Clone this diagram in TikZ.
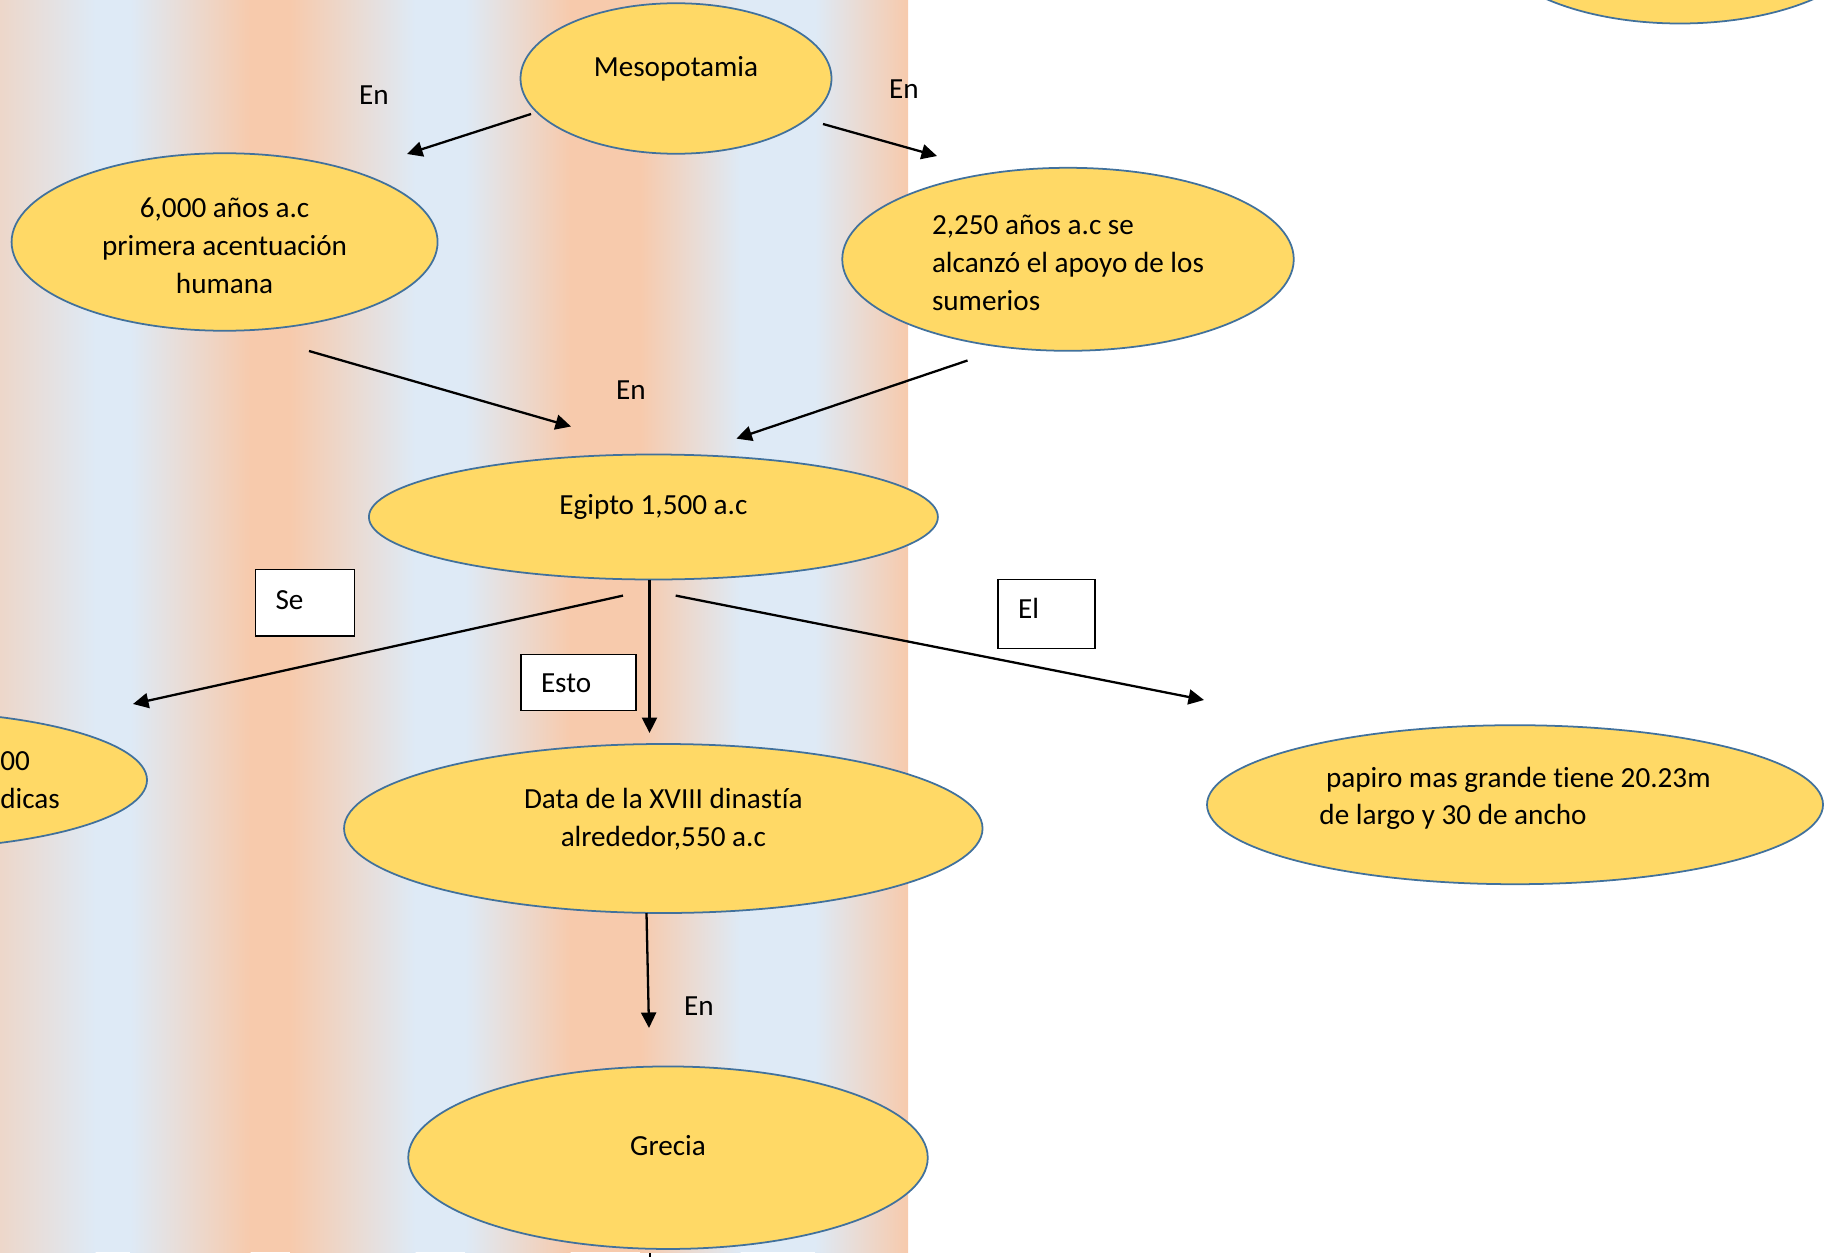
\documentclass[tikz,border=0pt]{standalone}
\usepackage{fontspec}
\setmainfont{Carlito}[Ligatures=NoCommon]
\usetikzlibrary{arrows.meta,shapes.geometric,positioning}
\definecolor{stripeblue}{HTML}{DEEAF6}
\definecolor{stripesalmon}{HTML}{F7CAAC}
\definecolor{ovalfill}{HTML}{FFD966}
\definecolor{ovalline}{HTML}{41719C}
\newcommand{\txtfont}{\fontsize{16.6}{21.6}\selectfont}

\begin{document}
\begin{tikzpicture}[x=0.2mm, y=-0.2mm,
  oval/.style={ellipse, draw=ovalline, line width=1pt, fill=ovalfill, inner sep=0pt,
    font=\txtfont, align=center, text height=0pt},
  lbl/.style={rectangle, draw=black, line width=0.6pt, fill=white, inner xsep=4mm,
    inner ysep=0pt, align=left, font=\txtfont, text depth=0pt},
  en/.style={font=\txtfont, inner sep=0pt},
  arr/.style={-{Triangle[length=3.1mm,width=3mm]}, line width=1.3pt}]
\useasboundingbox (0,0) rectangle (1830,1256);
\clip (0,0) rectangle (1830,1256);

% striped background
\shade[left color=stripesalmon!60!stripeblue, right color=stripeblue] (0,0) rectangle (95.5,1252);
\fill[stripeblue] (95,0) rectangle (130.5,1252);
\shade[left color=stripeblue, right color=stripesalmon] (130,0) rectangle (250.5,1252);
\fill[stripesalmon] (250,0) rectangle (290.5,1252);
\shade[left color=stripesalmon, right color=stripeblue] (290,0) rectangle (415.5,1252);
\fill[stripeblue] (415,0) rectangle (465.5,1252);
\shade[left color=stripeblue, right color=stripesalmon] (465,0) rectangle (570.5,1252);
\fill[stripesalmon] (570,0) rectangle (640.5,1252);
\shade[left color=stripesalmon, right color=stripeblue] (640,0) rectangle (740.5,1252);
\fill[stripeblue] (740,0) rectangle (815.5,1252);
\shade[left color=stripeblue, right color=stripesalmon] (815,0) rectangle (908,1252);

% ovals
\node[oval, minimum width=78mm, minimum height=36mm] (top) at (1680,-66.5) {};
\node[oval, minimum width=62.2mm, minimum height=30.1mm, text depth=0.6mm] (meso) at (676,78.5) {Mesopotamia};
\node[oval, minimum width=85.2mm, minimum height=35.5mm, text height=20.6mm, text depth=0pt] (acent) at (224.6,242)
  {6,000 años a.c\\primera acentuación\\humana};
\node[oval, align=left, minimum width=90.3mm, minimum height=36.6mm, text height=20.4mm, text depth=0pt] (sumer) at (1068,259.3)
  {2,250 años a.c se\\alcanzó el apoyo de los\\sumerios};
\node[oval, minimum width=113.8mm, minimum height=25mm, text depth=1mm] (egipto) at (653.4,517) {Egipto 1,500 a.c};
\node[oval, minimum width=100mm, minimum height=27.6mm] (medic) at (-103,780) {};
\node[font=\txtfont, align=left, inner sep=0pt, anchor=base west] (medictxt) at (0,808) {00\\dicas};
\node[oval, minimum width=127.7mm, minimum height=33.8mm, text height=7mm, text depth=0pt] (data) at (663.3,828.5)
  {Data de la XVIII dinastía\\alrededor,550 a.c};
\node[oval, align=left, minimum width=123.2mm, minimum height=31.8mm, text height=8.1mm, text depth=0pt] (papiro) at (1515,804.7)
  {~papiro mas grande tiene 20.23m\\de largo y 30 de ancho};
\node[oval, minimum width=103.9mm, minimum height=36.5mm, text depth=0.7mm] (grecia) at (668,1157.7) {Grecia};

% boxes
\node[lbl, text width=11.8mm, minimum height=13.3mm, text height=2.5mm] (se) at (305.1,602.75) {Se};
\node[lbl, text width=15mm, minimum height=11.3mm, text height=4.1mm] (esto) at (578.5,682.7) {Esto};
\node[lbl, text width=11.4mm, minimum height=13.9mm, text height=1.8mm] (el) at (1046.5,614.2) {El};

% labels
\node[en] (en1) at (374,95) {En};
\node[en] (en2) at (904,89) {En};
\node[en] (en3) at (631,390) {En};
\node[en] (en4) at (699,1006) {En};

% arrow ends
\coordinate (meso-l) at (531,114);
\coordinate (acent-in) at (407,154);
\coordinate (meso-r) at (823,124);
\coordinate (sumer-in) at (937,156);
\coordinate (acent-out) at (309,351);
\coordinate (egipto-inl) at (571,426.5);
\coordinate (sumer-out) at (967.5,360.5);
\coordinate (egipto-inr) at (736.4,438.6);
\coordinate (egipto-l) at (623,595.6);
\coordinate (medic-in) at (133,704);
\coordinate (egipto-d) at (649.5,579.5);
\coordinate (data-in) at (649.5,733);
\coordinate (egipto-r) at (675.7,595.6);
\coordinate (papiro-in) at (1204,700);
\coordinate (data-d) at (646.5,913);
\coordinate (grecia-in) at (649,1028);
\coordinate (grecia-d) at (650,1253);
\coordinate (next-in) at (650,1300);

\draw[arr] (meso-l) -- (acent-in);
\draw[arr] (meso-r) -- (sumer-in);
\draw[arr] (acent-out) -- (egipto-inl);
\draw[arr] (sumer-out) -- (egipto-inr);
\draw[arr] (egipto-l) -- (medic-in);
\draw[arr] (egipto-d) -- (data-in);
\draw[arr] (egipto-r) -- (papiro-in);
\draw[arr] (data-d) -- (grecia-in);
\draw[arr] (grecia-d) -- (next-in);
\end{tikzpicture}
\end{document}
